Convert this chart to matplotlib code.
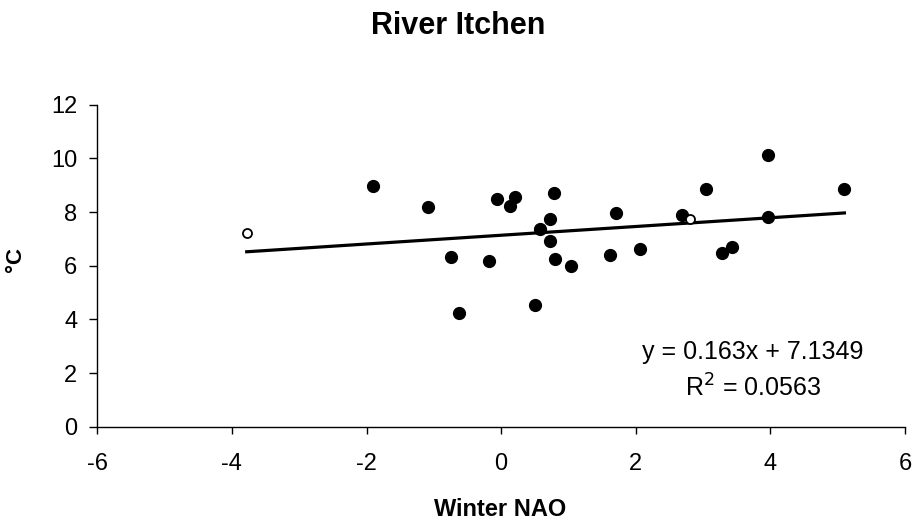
import numpy as np
import matplotlib.pyplot as plt

plt.rcParams['font.family'] = ['Liberation Sans', 'DejaVu Sans']
plt.rcParams['axes.unicode_minus'] = False

# winter NAO index vs temperature (filled = used in fit, open = excluded)
nao = [-1.90, -1.09, -0.06, 0.21, 0.13, 0.78, 0.72, 0.57, 0.72, -0.74,
       -0.18, 0.80, 1.04, -0.62, 0.51, 1.70, 1.61, 2.06, 2.69, 3.04,
       3.28, 3.43, 3.97, 3.97, 5.10]
temp = [8.98, 8.18, 8.47, 8.55, 8.24, 8.70, 7.73, 7.36, 6.91, 6.31,
        6.16, 6.24, 6.00, 4.23, 4.52, 7.95, 6.39, 6.61, 7.88, 8.85,
        6.46, 6.69, 10.12, 7.80, 8.85]
nao_open = [-3.78, 2.80]
temp_open = [7.22, 7.74]

slope = 0.163
intercept = 7.1349
r2 = 0.0563

fig = plt.figure(figsize=(9.17, 5.22), dpi=100)
ax = fig.add_axes([0.1061, 0.1826, 0.8808, 0.6168])

xs = np.array([min(nao + nao_open), max(nao + nao_open)])
ax.plot(xs, slope * xs + intercept, color='black', lw=2.3, zorder=2)
ax.plot(nao, temp, 'o', color='black', ms=8.5, zorder=3)
ax.plot(nao_open, temp_open, 'o', mfc='white', mec='black', mew=1.3, ms=6.5, zorder=4)

ax.set_xlim(-6, 6)
ax.set_ylim(0, 12)
ax.set_xticks(np.arange(-6, 7, 2))
ax.set_yticks(np.arange(0, 13, 2))
ax.spines['top'].set_visible(False)
ax.spines['right'].set_visible(False)
for s in ['left', 'bottom']:
    ax.spines[s].set_linewidth(1.0)
ax.tick_params(axis='y', direction='out', length=5.8, width=1, labelsize=17, pad=8.5)
ax.tick_params(axis='x', direction='out', length=5, width=1, labelsize=17, pad=14)

ax.text(3.74, 2.08, 'y = %.3fx + %.4f\nR$^2$ = %.4f' % (slope, intercept, r2),
        ha='center', va='center', multialignment='center', fontsize=18, linespacing=1.45)

fig.text(0.4995, 0.935, 'River Itchen', ha='center', va='baseline', fontsize=22, fontweight='bold')
fig.text(0.545, 0.0115, 'Winter NAO', ha='center', va='baseline', fontsize=17, fontweight='bold')
fig.text(0.017, 0.502, '°C', ha='center', va='center', rotation=90, fontsize=16, fontweight='bold')

fig.savefig('out.png', dpi=100)
